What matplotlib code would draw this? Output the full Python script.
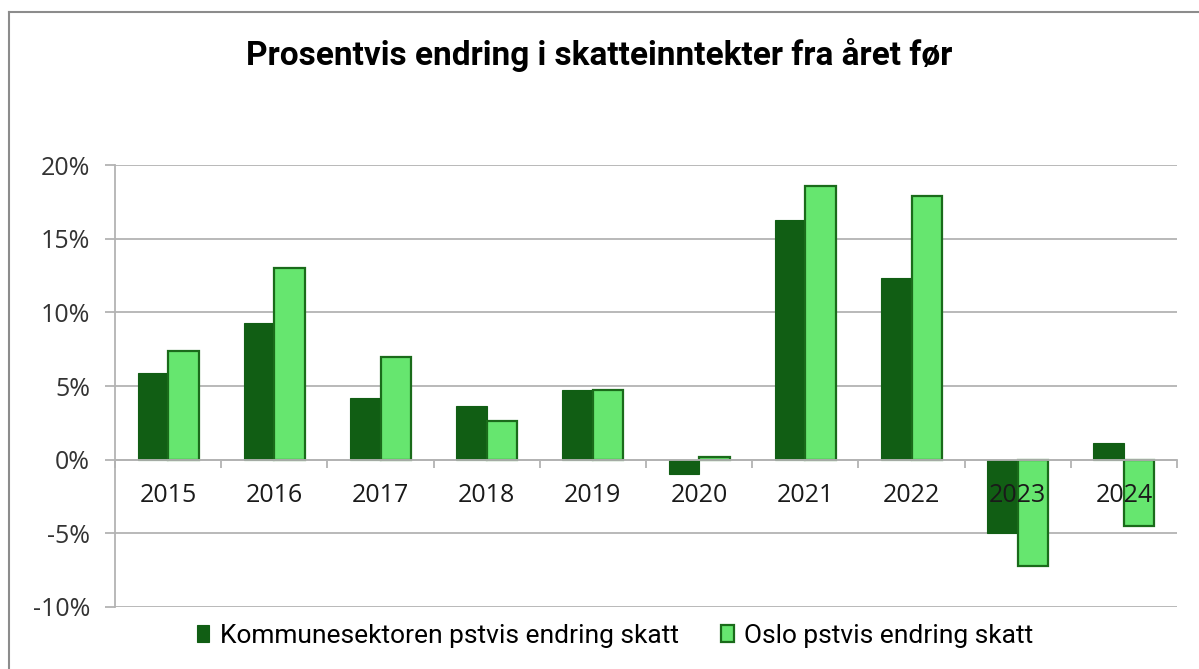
import matplotlib
matplotlib.use("Agg")
import matplotlib.pyplot as plt
import numpy as np
from matplotlib.lines import Line2D
from matplotlib.ticker import FuncFormatter, FixedLocator

years = ["2015", "2016", "2017", "2018", "2019", "2020", "2021", "2022", "2023", "2024"]
kommune = [5.85, 9.25, 4.2, 3.67, 4.76, -1.0, 16.3, 12.3, -5.0, 1.15]
oslo = [7.35, 13.0, 7.0, 2.6, 4.7, 0.15, 18.6, 17.9, -7.2, -4.5]
labels = ["Kommunesektoren pstvis endring skatt", "Oslo pstvis endring skatt"]
title = "Prosentvis endring i skatteinntekter fra året før"

DARK = "#115e14"
LIGHT = "#66e66f"
EDGE = "#1a6b1a"
GRID = "#b3b3b3"

narrow = ["Roboto", "DejaVu Sans"]
plt.rcParams["font.family"] = ["Open Sans", "DejaVu Sans"]

fig = plt.figure(figsize=(11.99, 6.69), dpi=100)
ax = fig.add_axes([115 / 1199, 1 - 607 / 669, (1177 - 115) / 1199, (607 - 165) / 669])

x = np.arange(len(years))
w = 0.287
ax.bar(x - w / 2, kommune, w, color=DARK, edgecolor=DARK, linewidth=0.8, label=labels[0], zorder=3)
ax.bar(x + w / 2, oslo, w, color=LIGHT, edgecolor=EDGE, linewidth=1.6, label=labels[1], zorder=3)

ax.set_xlim(-0.5, len(years) - 0.5)
ax.set_ylim(-10, 20)
ax.set_yticks(np.arange(-10, 21, 5))
ax.yaxis.set_major_formatter(FuncFormatter(lambda v, p: f"{v:.0f}%"))
ax.grid(axis="y", color=GRID, linewidth=1.3, zorder=0)

# category axis sits at zero with tick marks between the groups
ax.spines["bottom"].set_position(("data", 0))
for s in ["bottom", "left"]:
    ax.spines[s].set_color(GRID)
    ax.spines[s].set_linewidth(1.3)
    ax.spines[s].set_zorder(4)
for s in ["top", "right"]:
    ax.spines[s].set_visible(False)

ax.xaxis.set_major_locator(FixedLocator(np.arange(-0.5, len(years), 1.0)))
ax.xaxis.set_minor_locator(FixedLocator(x))
ax.xaxis.set_major_formatter(FuncFormatter(lambda v, p: ""))
ax.set_xticklabels(years, minor=True)
ax.tick_params(axis="x", which="major", length=6, width=1.3, color=GRID, direction="out")
ax.tick_params(axis="x", which="minor", length=0, pad=17, labelsize=18, labelcolor="#1a1a1a")
ax.tick_params(axis="y", length=7, width=1.3, color=GRID, pad=11, labelsize=18, labelcolor="#333333")
ax.xaxis.set_zorder(5)

fig.text(0.5, 1 - 55 / 669, title, ha="center", va="center", fontsize=24,
         fontweight="bold", family=narrow, color="black")

fig.legend(loc="lower center", bbox_to_anchor=(0.513, -0.004), ncol=2, frameon=False,
           handlelength=0.48, handleheight=0.65, handletextpad=0.4, columnspacing=1.6,
           prop={"family": narrow, "size": 19})

# chart frame (top and left edge visible)
frame_col = "#8c8c8c"
fig.add_artist(Line2D([9 / 1199, 1.0], [1 - 12 / 669, 1 - 12 / 669], transform=fig.transFigure,
                      color=frame_col, linewidth=1.5))
fig.add_artist(Line2D([9 / 1199, 9 / 1199], [0, 1 - 12 / 669], transform=fig.transFigure,
                      color=frame_col, linewidth=1.5))

fig.savefig("out.png", dpi=100)
